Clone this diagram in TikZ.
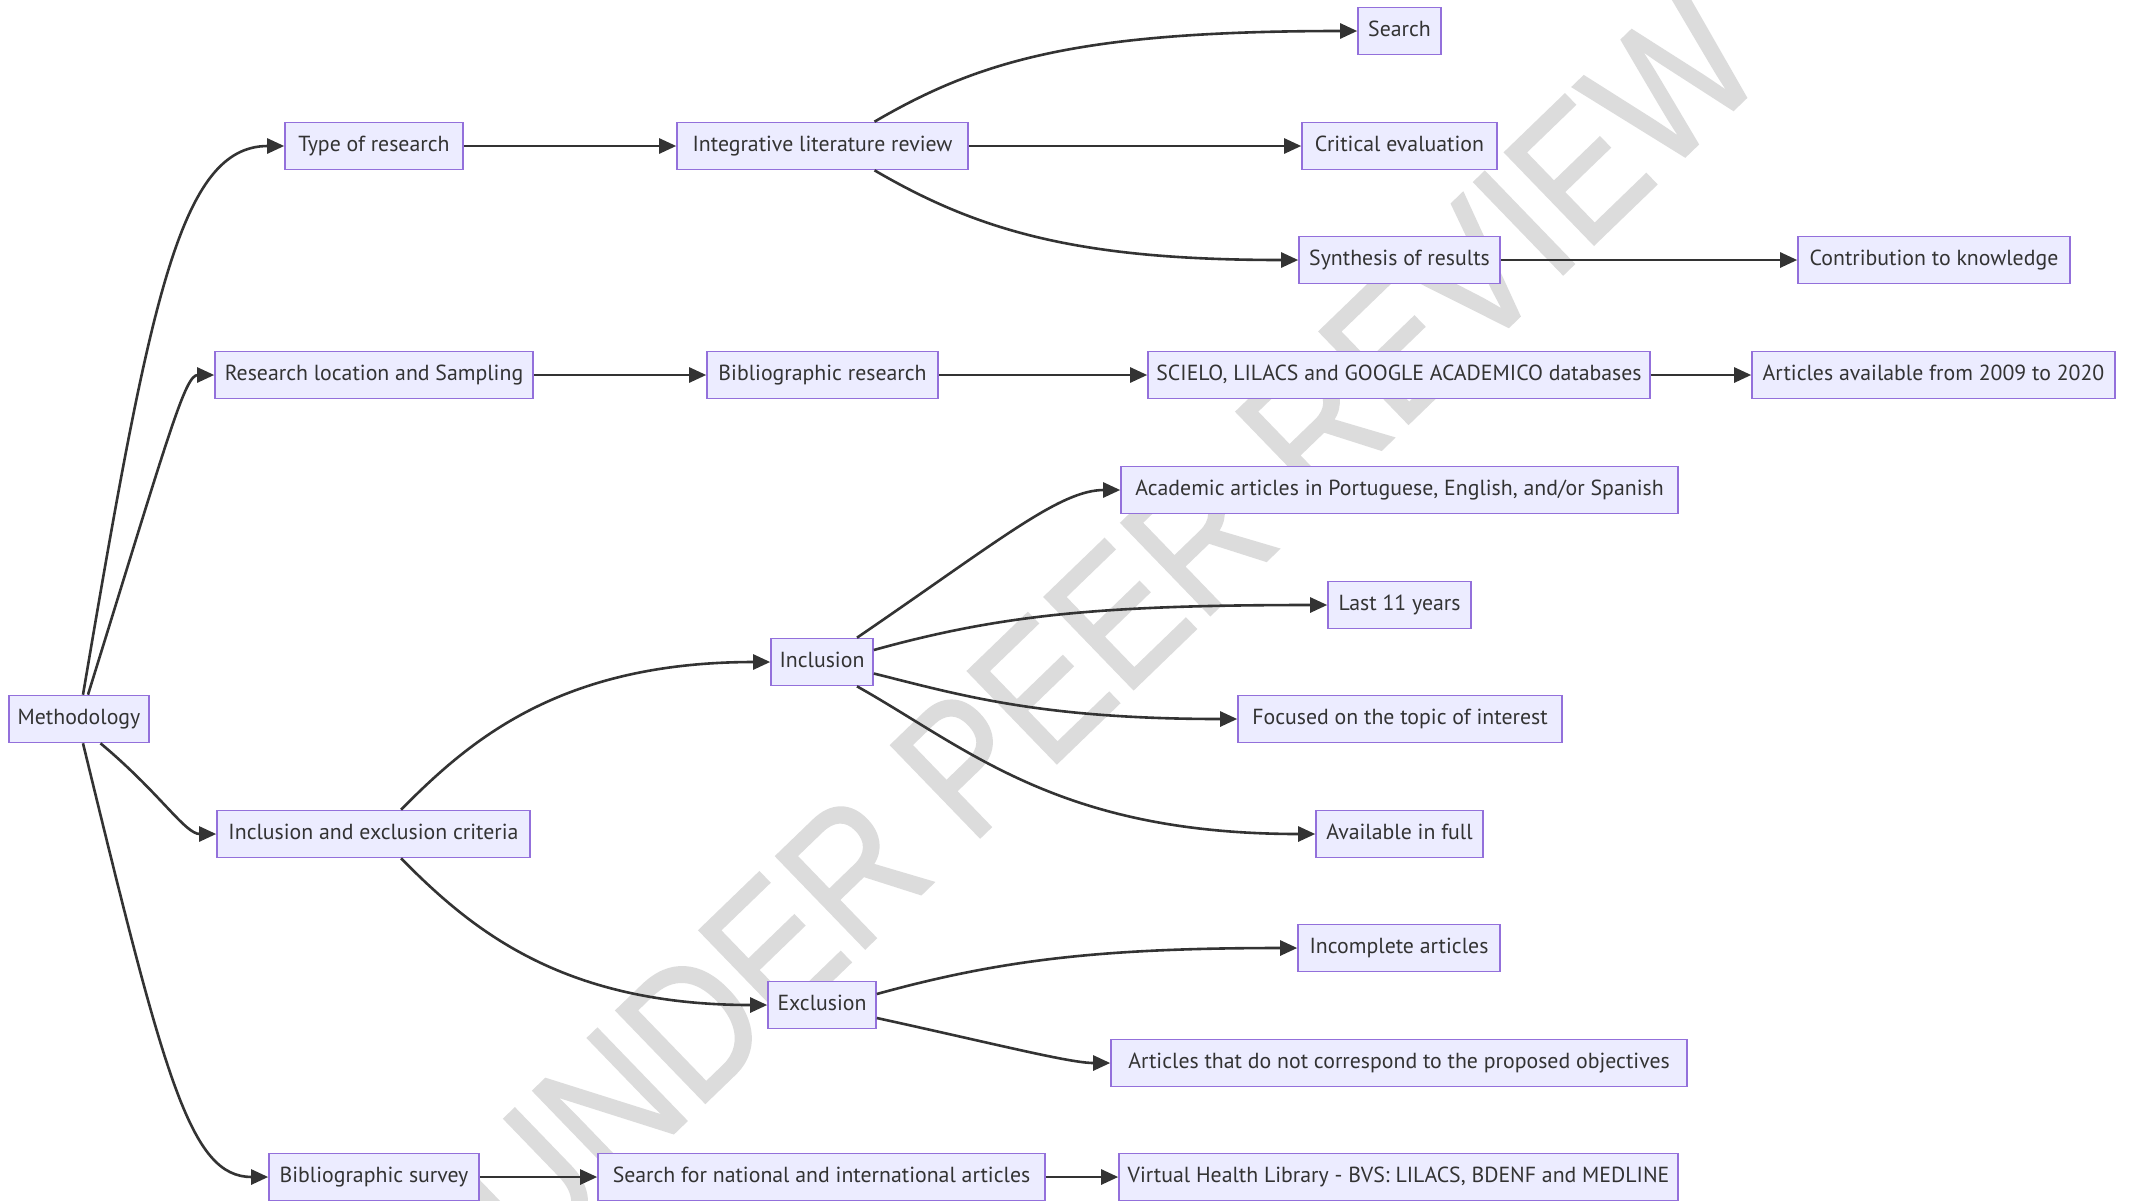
\documentclass[tikz,border=0pt]{standalone}
\usepackage{fontspec}
\setmainfont{PT Sans}
\newfontfamily\wmfont[FakeBold=1.2]{Liberation Sans}
\usetikzlibrary{arrows.meta}
\definecolor{boxfill}{HTML}{ECECFF}
\definecolor{boxline}{HTML}{9370DB}
\definecolor{edgecol}{HTML}{333333}
\definecolor{wmgray}{HTML}{DCDCDC}
\begin{document}
\begin{tikzpicture}[x=0.5pt,y=-0.5pt,
  box/.style={draw=boxline, line width=0.8pt, fill=boxfill, minimum height=23.5pt,
    inner sep=0pt, text=edgecol, font=\fontsize{10.9pt}{12pt}\selectfont,
    text height=7.7pt, text depth=2.25pt},
  edge/.style={draw=edgecol, line width=1.3pt, -{Triangle[length=8.5pt,width=7.5pt]}},
  wmark/.style={text=wmgray, font=\wmfont\fontsize{93pt}{93pt}\selectfont, rotate=44, inner sep=0pt}
]
\useasboundingbox (0,0) rectangle (2130,1200);
\fill[white] (0,0) rectangle (2130,1200);
\node[wmark] (wm) at (1106,628) {\scalebox{0.86}[1]{UNDER PEER REVIEW}};

\node[box, minimum width=70pt] (meth) at (79,719) {Methodology};
\node[box, minimum width=89pt] (type) at (374,146) {Type of research};
\node[box, minimum width=159pt] (resloc) at (374,375) {Research location and Sampling};
\node[box, minimum width=156.5pt] (crit) at (373.5,834) {Inclusion and exclusion criteria};
\node[box, minimum width=105pt] (bibsurv) at (374,1177) {Bibliographic survey};
\node[box, minimum width=145.5pt] (integ) at (822.5,146) {Integrative literature review};
\node[box, minimum width=115.5pt] (bibres) at (822.5,375) {Bibliographic research};
\node[box, minimum width=51pt] (incl) at (822,662) {Inclusion};
\node[box, minimum width=54pt] (excl) at (822,1005) {Exclusion};
\node[box, minimum width=223.5pt] (searchnat) at (821.5,1177) {Search for national and international articles};
\node[box, minimum width=41.5pt] (search) at (1399.5,31) {Search};
\node[box, minimum width=97.5pt] (crev) at (1399.5,146) {Critical evaluation};
\node[box, minimum width=100.5pt] (synth) at (1399.5,260) {Synthesis of results};
\node[box, minimum width=251pt] (scielo) at (1399,375) {SCIELO, LILACS and GOOGLE ACADEMICO databases};
\node[box, minimum width=278.5pt] (acad) at (1399.5,490) {Academic articles in Portuguese, English, and/or Spanish};
\node[box, minimum width=71.5pt] (last) at (1399.5,605) {Last 11 years};
\node[box, minimum width=162pt] (focus) at (1400,719) {Focused on the topic of interest};
\node[box, minimum width=83.5pt] (avail) at (1399.5,834) {Available in full};
\node[box, minimum width=101pt] (incomp) at (1399,948) {Incomplete articles};
\node[box, minimum width=288pt] (notcorr) at (1399,1063) {Articles that do not correspond to the proposed objectives};
\node[box, minimum width=279.5pt] (vhl) at (1398.5,1177) {Virtual Health Library - BVS: LILACS, BDENF and MEDLINE};
\node[box, minimum width=136pt] (contrib) at (1934,260) {Contribution to knowledge};
\node[box, minimum width=181.5pt] (artav) at (1933.5,375) {Articles available from 2009 to 2020};

\draw[edge] ([xshift=2pt]meth.north) .. controls (150,300) and (180,146) .. (type.west);
\draw[edge] ([xshift=4.5pt]meth.north) .. controls (170,430) and (185,375) .. (resloc.west);
\draw[edge] ([xshift=10.75pt]meth.south) .. controls (160,793) and (185,834) .. (crit.west);
\draw[edge] ([xshift=2pt]meth.south) .. controls (165,1080) and (190,1177) .. (bibsurv.west);

\draw[edge] (type.east) -- (integ.west);
\draw[edge] (resloc.east) -- (bibres.west);
\draw[edge] (bibsurv.east) -- (searchnat.west);

\draw[edge] ([xshift=13.75pt]crit.north) .. controls (470,740) and (560,662) .. (incl.west);
\draw[edge] ([xshift=13.75pt]crit.south) .. controls (470,928) and (560,1005) .. (excl.west);

\draw[edge] ([xshift=26pt]integ.north) .. controls (980,60) and (1080,31) .. (search.west);
\draw[edge] (integ.east) -- (crev.west);
\draw[edge] ([xshift=26pt]integ.south) .. controls (980,232) and (1080,260) .. (synth.west);
\draw[edge] (synth.east) -- (contrib.west);
\draw[edge] (bibres.east) -- (scielo.west);
\draw[edge] (scielo.east) -- (artav.west);

\draw[edge] ([xshift=17.5pt]incl.north) .. controls (1000,540) and (1060,490) .. (acad.west);
\draw[edge] ([yshift=6pt]incl.east) .. controls (1000,615) and (1100,605) .. (last.west);
\draw[edge] ([yshift=-5.75pt]incl.east) .. controls (960,695) and (1040,719) .. (focus.west);
\draw[edge] ([xshift=17.5pt]incl.south) .. controls (970,750) and (1060,834) .. (avail.west);

\draw[edge] ([yshift=5.5pt]excl.east) .. controls (1000,960) and (1100,948) .. (incomp.west);
\draw[edge] ([yshift=-6.5pt]excl.east) .. controls (1000,1045) and (1070,1063) .. (notcorr.west);

\draw[edge] (searchnat.east) -- (vhl.west);
\end{tikzpicture}
\end{document}
